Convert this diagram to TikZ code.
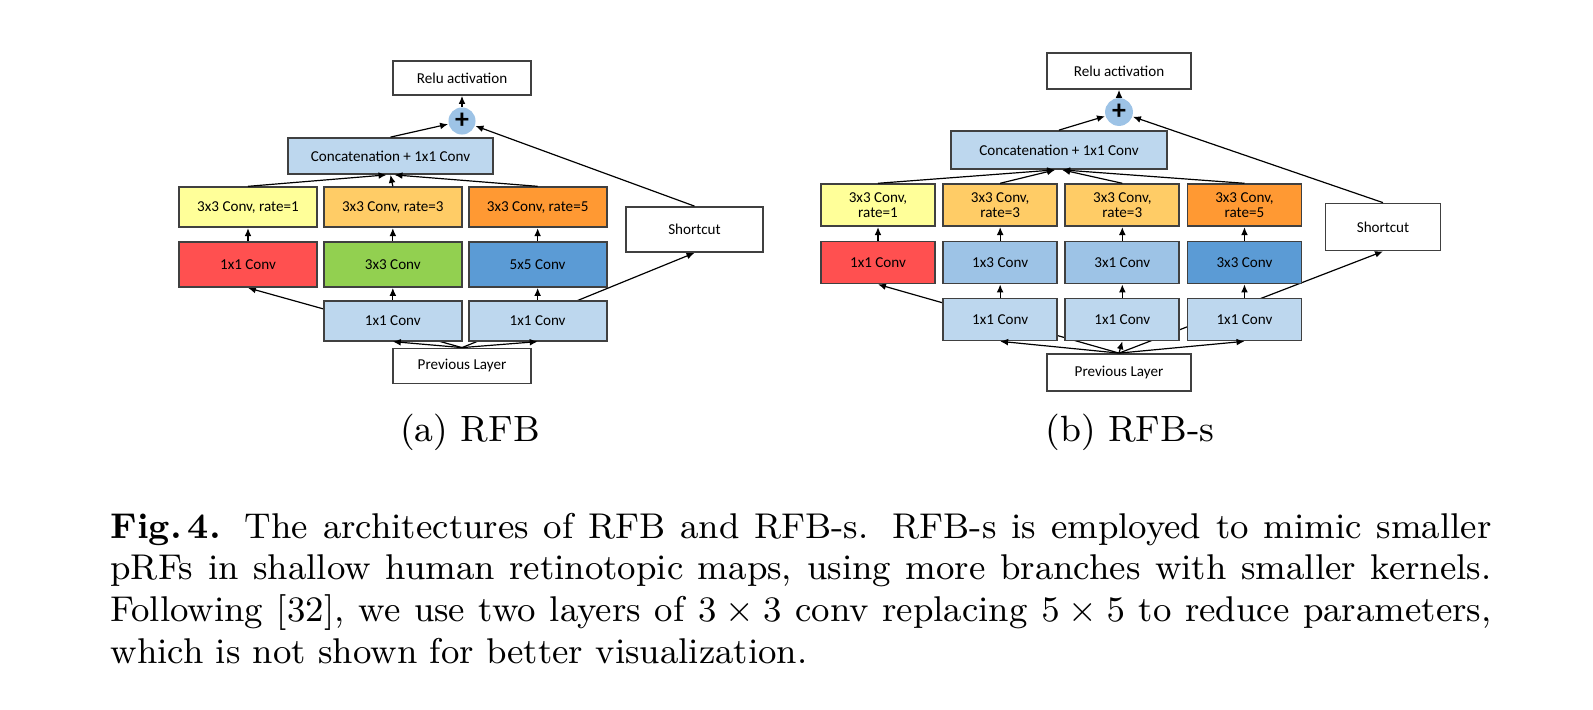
\documentclass[tikz,border=0pt]{standalone}
\usepackage{fontspec}
\usepackage{amsmath}
\usetikzlibrary{positioning,arrows.meta,backgrounds}
\newfontfamily\boxfont{Carlito}

\definecolor{lblue}{RGB}{189,215,238}
\definecolor{mblue}{RGB}{157,195,230}
\definecolor{dblue}{RGB}{91,155,213}
\definecolor{cred}{RGB}{255,80,80}
\definecolor{cgreen}{RGB}{146,208,80}
\definecolor{cyel}{RGB}{255,255,153}
\definecolor{corg}{RGB}{255,204,102}
\definecolor{dorg}{RGB}{255,153,51}

\tikzset{
  box/.style={draw=black!75, line width=0.45pt, inner sep=0pt, align=center,
    font=\boxfont\fontsize{3.8}{4}\selectfont},
  whitebox/.style={box, fill=white},
  brA/.style={box, minimum width=34.7pt, minimum height=10.06pt},
  brB/.style={box, minimum width=28.66pt, minimum height=10.56pt},
  sumnode/.style={circle, fill=mblue, inner sep=0pt, minimum size=6.8pt,
    font=\boxfont\bfseries\fontsize{7}{7}\selectfont},
  conn/.style={-{Latex[length=2pt,width=1.7pt]}, line width=0.3pt},
}

\begin{document}
\begin{tikzpicture}[x=0.2514pt, y=-0.2514pt]
  \path[use as bounding box] (0,0) rectangle (1593,709);

  % (a) RFB
  \node[whitebox, minimum width=34.7pt, minimum height=8.55pt] (reluA) at (462,78) {Relu activation};
  \node[sumnode] (addA) at (462,121) {+};
  \node[box, fill=lblue, minimum width=51.5pt, minimum height=9.05pt] (catA) at (390.5,156) {Concatenation + 1x1 Conv};
  \node[brA, minimum height=11.3pt, fill=cred] (cA1) at (248,264.5) {1x1 Conv};
  \node[brA, minimum height=11.3pt, fill=cgreen, right=1.26pt of cA1] (cA2) {3x3 Conv};
  \node[brA, minimum height=11.3pt, fill=dblue, right=1.26pt of cA2] (cA3) {5x5 Conv};
  \node[brA, fill=cyel, above=3.27pt of cA1] (rA1) {3x3 Conv, rate=1};
  \node[brA, fill=corg, above=3.27pt of cA2] (rA2) {3x3 Conv, rate=3};
  \node[brA, fill=dorg, above=3.27pt of cA3] (rA3) {3x3 Conv, rate=5};
  \node[brA, fill=lblue, below=3pt of cA2] (pA2) {1x1 Conv};
  \node[brA, fill=lblue, below=3pt of cA3] (pA3) {1x1 Conv};
  \node[whitebox, minimum width=34.7pt, minimum height=8.8pt] (prevA) at (462,366) {Previous Layer};
  \node[whitebox, minimum width=34.4pt, minimum height=11.3pt] (scA) at (694.5,229.5) {Shortcut};

  \draw[conn] (addA) -- (reluA);
  \draw[conn] (catA.north) -- (addA);
  \draw[conn] (scA.north) -- (addA);
  \draw[conn] (rA1.north) -- ([xshift=-1pt]catA.south);
  \draw[conn] (rA2.north) -- (catA.south);
  \draw[conn] (rA3.north) -- ([xshift=1pt]catA.south);
  \foreach \i in {1,2,3} \draw[conn] (cA\i) -- (rA\i);
  \foreach \i in {2,3} \draw[conn] (pA\i) -- (cA\i);
  \draw[conn] (prevA.north) -- (pA2.south);
  \draw[conn] (prevA.north) -- (pA3.south);
  \begin{scope}[on background layer]
    \draw[conn] (prevA.north) -- (cA1.south);
    \draw[conn] (prevA.north) -- (scA.south);
  \end{scope}

  % (b) RFB-s
  \node[whitebox, minimum width=36.2pt, minimum height=9.05pt] (reluB) at (1119,71) {Relu activation};
  \node[sumnode, minimum size=7pt] (addB) at (1119,112) {+};
  \node[box, fill=lblue, minimum width=54.3pt, minimum height=9.55pt] (catB) at (1059,150) {Concatenation + 1x1 Conv};
  \node[brB, fill=cred] (cB1) at (878,262.5) {1x1 Conv};
  \node[brB, fill=mblue, right=1.6pt of cB1] (cB2) {1x3 Conv};
  \node[brB, fill=mblue, right=1.6pt of cB2] (cB3) {3x1 Conv};
  \node[brB, fill=dblue, right=1.6pt of cB3] (cB4) {3x3 Conv};
  \node[brB, fill=cyel, above=3.4pt of cB1] (rB1) {3x3 Conv,\\rate=1};
  \node[brB, fill=corg, above=3.4pt of cB2] (rB2) {3x3 Conv,\\rate=3};
  \node[brB, fill=corg, above=3.4pt of cB3] (rB3) {3x3 Conv,\\rate=3};
  \node[brB, fill=dorg, above=3.4pt of cB4] (rB4) {3x3 Conv,\\rate=5};
  \foreach \i in {2,3,4}
    \node[brB, fill=lblue, below=3.3pt of cB\i] (pB\i) {1x1 Conv};
  \node[whitebox, minimum width=36.2pt, minimum height=9.3pt] (prevB) at (1119,372.5) {Previous Layer};
  \node[whitebox, minimum width=28.9pt, minimum height=11.8pt] (scB) at (1383,227) {Shortcut};

  \draw[conn] (addB) -- (reluB);
  \draw[conn] (catB.north) -- (addB);
  \draw[conn] (scB.north) -- (addB);
  \foreach \i in {1,2} \draw[conn] (rB\i.north) -- ([xshift=-1pt]catB.south);
  \foreach \i in {3,4} \draw[conn] (rB\i.north) -- ([xshift=0.8pt]catB.south);
  \foreach \i in {1,2,3,4} \draw[conn] (cB\i) -- (rB\i);
  \foreach \i in {2,3,4} {
    \draw[conn] (pB\i) -- (cB\i);
    \draw[conn] (prevB.north) -- (pB\i.south);
  }
  \begin{scope}[on background layer]
    \draw[conn] (prevB.north) -- (cB1.south);
    \draw[conn] (prevB.north) -- (scB.south);
  \end{scope}

  % captions
  \node[anchor=base, font=\fontsize{9.2}{11}\selectfont] (capA) at (470,441) {(a) RFB};
  \node[anchor=base, font=\fontsize{9.2}{11}\selectfont] (capB) at (1130,441) {(b) RFB-s};
  \node[anchor=north west, inner sep=0pt, text width=347.2pt, align=justify,
    font=\fontsize{9}{10.48}\selectfont] (cap) at (109.7,512)
    {\textbf{Fig.\,4.} The architectures of RFB and RFB-s. RFB-s is employed to mimic smaller\linebreak
     pRFs in shallow human retinotopic maps, using more branches with smaller kernels.\linebreak
     Following [32], we use two layers of $3\times3$ conv replacing $5\times5$ to reduce parameters,\linebreak
     which is not shown for better visualization.};
\end{tikzpicture}
\end{document}
